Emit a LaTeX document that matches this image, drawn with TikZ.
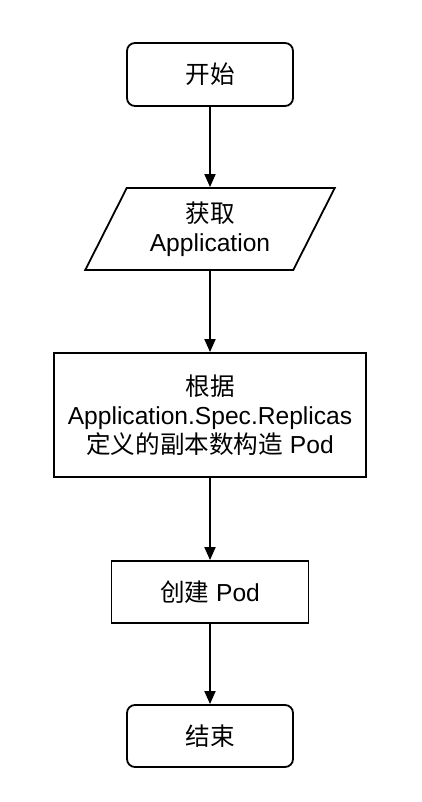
\documentclass[tikz,border=0pt]{standalone}
\usepackage{fontspec}
\setmainfont{Liberation Sans}
\newfontfamily\cjk{Noto Sans CJK SC}
\usetikzlibrary{arrows.meta,calc}
\begin{document}
\begin{tikzpicture}[x=1pt,y=1pt,
  box/.style={draw, line width=1.8pt, align=center, inner sep=0pt,
    font=\fontsize{24.6}{28.8}\selectfont},
  arr/.style={-{Triangle[length=13pt,width=11pt]}, line width=1.8pt}]
\useasboundingbox (0,0) rectangle (421,802);
\fill[white] (0,0) rectangle (421,802);

\node[box, rounded corners=8pt, minimum width=166pt, minimum height=63pt] (start) at (210,727.5) {\cjk 开始};

\node[box, draw=none, minimum width=166pt, minimum height=82pt] (get) at (210,573) {{\cjk 获取}\\Application};
\draw[line width=1.8pt, line join=miter]
  ($(get.center)+(-83.25,41)$) -- ($(get.center)+(124.75,41)$) --
  ($(get.center)+(83.25,-41)$) -- ($(get.center)+(-124.75,-41)$) -- cycle;

\node[box, minimum width=312pt, minimum height=124pt] (spec) at (210,387)
  {{\cjk 根据}\\Application.Spec.Replicas\\{\cjk 定义的副本数构造} Pod};

\node[box, minimum width=197pt, minimum height=62pt] (create) at (210,210) {{\cjk 创建} Pod};

\node[box, rounded corners=8pt, minimum width=166pt, minimum height=62pt] (end) at (210,66) {\cjk 结束};

\draw[arr] (start.south) -- (get.north);
\draw[arr] (get.south) -- (spec.north);
\draw[arr] (spec.south) -- (create.north);
\draw[arr] (create.south) -- (end.north);
\end{tikzpicture}
\end{document}
